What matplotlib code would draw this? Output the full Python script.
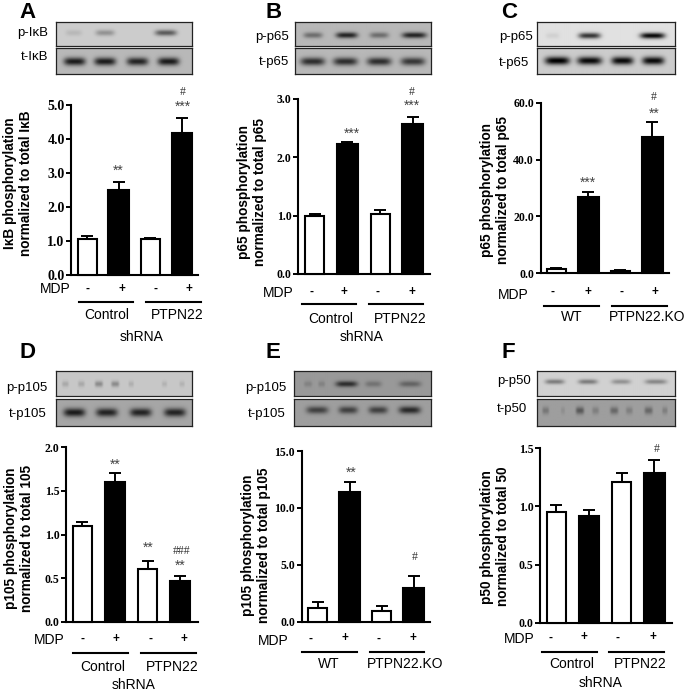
import numpy as np
import matplotlib
matplotlib.use("Agg")
import matplotlib.pyplot as plt
from matplotlib.lines import Line2D

W, H = 686, 692
SANS = "Liberation Sans"
SERIF = "Liberation Serif"

# ---- data ----
conditions = ["Control -", "Control +", "PTPN22 -", "PTPN22 +"]
mdp_signs = ["-", "+", "-", "+"]

a_mean = [1.04, 2.49, 1.04, 4.17]
a_top = [1.15, 2.74, 1.07, 4.62]
b_mean = [1.00, 2.22, 1.02, 2.57]
b_top = [1.03, 2.26, 1.10, 2.69]
c_mean = [1.4, 26.7, 0.9, 47.8]
c_top = [2.0, 28.5, 1.3, 53.3]
d_mean = [1.10, 1.60, 0.61, 0.47]
d_top = [1.14, 1.71, 0.70, 0.52]
e_mean = [1.17, 11.4, 0.90, 2.96]
e_top = [1.70, 12.25, 1.35, 4.00]
f_mean = [0.95, 0.92, 1.21, 1.29]
f_top = [1.01, 0.97, 1.29, 1.40]

a_ticks = [0, 1, 2, 3, 4, 5]
b_ticks = [0, 1, 2, 3]
c_ticks = [0, 20, 40, 60]
d_ticks = [0, 0.5, 1.0, 1.5, 2.0]
e_ticks = [0, 5, 10, 15]
f_ticks = [0, 0.5, 1.0, 1.5]

ctrl_groups = ["Control", "PTPN22"]
ko_groups = ["WT", "PTPN22.KO"]

a_ylabel = "I\u03baB phosphorylation\nnormalized to total I\u03baB"
b_ylabel = "p65 phosphorylation\nnormalized to total p65"
c_ylabel = "p65 phosphorylation\nnormalized to total p65"
d_ylabel = "p105 phosphorylation\nnormalized to total 105"
e_ylabel = "p105 phosphorylation\nnormalized to total p105"
f_ylabel = "p50 phosphorylation\nnormalized to total 50"

# blot bands: (centre along strip 0-1, half width 0-1, darkness 0-1)
a_p = [(.128, .06, .10), (.36, .07, .28), (.81, .08, .55)]
a_t = [(.135, .08, .85), (.36, .08, .85), (.60, .08, .80), (.83, .08, .85)]
b_p = [(.13, .07, .40), (.38, .08, .80), (.62, .07, .40), (.88, .09, .80)]
b_t = [(.128, .09, .75), (.37, .09, .75), (.62, .09, .75), (.87, .09, .70)]
c_p = [(.11, .05, .07), (.38, .08, .75), (.84, .09, .95)]
c_t = [(.145, .09, 1.0), (.38, .09, .95), (.62, .08, .95), (.845, .08, .95)]
d_p = [(.066, .025, .15), (.184, .025, .15), (.314, .03, .30), (.435, .03, .30),
       (.553, .02, .12), (.80, .02, .10), (.93, .02, .10)]
d_t = [(.133, .08, .85), (.373, .08, .80), (.624, .08, .80), (.877, .08, .80)]
e_p = [(.10, .03, .15), (.20, .025, .15), (.383, .08, .70), (.58, .06, .25), (.85, .08, .35)]
e_t = [(.168, .08, .60), (.395, .07, .60), (.615, .07, .60), (.847, .08, .75)]
f_p = [(.126, .07, .40), (.368, .07, .40), (.61, .07, .30), (.864, .08, .35)]
f_t = [(.06, .025, .25), (.186, .015, .10), (.31, .03, .45), (.424, .025, .20),
       (.56, .03, .35), (.67, .025, .20), (.811, .03, .35), (.93, .02, .20)]


# ---- layout in image pixels ----
def fx(x):
    return x / W


def fy(y):
    return 1 - y / H


fig = plt.figure(figsize=(W / 100, H / 100), dpi=100, facecolor="white")


def txt(x, y, s, **kw):
    kw.setdefault("ha", "center")
    kw.setdefault("va", "center")
    kw.setdefault("family", SANS)
    fig.text(fx(x), fy(y), s, **kw)


def blot(x0, x1, y0, y1, bg, bands, yc, sy=4.0):
    ax = fig.add_axes([fx(x0), fy(y1), (x1 - x0) / W, (y1 - y0) / H])
    nx, ny = int(x1 - x0), int(y1 - y0)
    xs = np.linspace(0, 1, nx)[None, :]
    ys = np.arange(ny)[:, None]
    shade = np.zeros((ny, nx))
    for c, hw, d in bands:
        shade += d * np.exp(-((xs - c) / hw) ** 4) * np.exp(-((ys - yc * ny) / sy) ** 2)
    ax.imshow(np.clip(bg * (1 - shade), 0, 1), cmap="gray", vmin=0, vmax=1,
              aspect="auto", interpolation="bilinear")
    ax.set_xticks([])
    ax.set_yticks([])
    for s in ax.spines.values():
        s.set_linewidth(0.9)
        s.set_color("#222222")


def panel(x0, x1, ytop, y0, ymax, c0, sp, mean, top, ticks, fmt, tfs):
    ax = fig.add_axes([fx(x0), fy(y0), (x1 - x0) / W, (y0 - ytop) / H])
    ax.set_xlim((x0 - c0) / sp, (x1 - c0) / sp)
    ax.set_ylim(0, ymax)
    pos = np.arange(len(mean))
    err = np.array(top) - np.array(mean)
    colors = ["white", "black", "white", "black"]
    widths = [19 / sp, 20.5 / sp, 19 / sp, 20.5 / sp]
    ax.bar(pos, mean, width=widths, color=colors, edgecolor="black", linewidth=1.5, zorder=3, clip_on=False)
    ax.errorbar(pos, mean, yerr=[np.zeros(4), err], fmt="none", ecolor="black",
                elinewidth=1.4, capsize=4, capthick=1.4, zorder=2, clip_on=False)
    ax.set_xticks([])
    ax.set_yticks(ticks)
    ax.set_yticklabels([fmt.format(t) for t in ticks], family=SERIF, fontweight="bold", fontsize=tfs)
    ax.tick_params(axis="y", length=3.8, width=1.4, pad=1)
    ax.patch.set_alpha(0)
    for s in ("top", "right"):
        ax.spines[s].set_visible(False)
    for s in ("left", "bottom"):
        ax.spines[s].set_linewidth(1.5)
    return ax


def under(mdp_xy, signs_x, sign_y, lines, line_y, groups, group_y):
    txt(mdp_xy[0], mdp_xy[1], "MDP", fontsize=10)
    for x, s in zip(signs_x, mdp_signs):
        txt(x, sign_y, s, fontsize=8.5, fontweight="bold")
    for (a, b) in lines:
        fig.add_artist(Line2D([fx(a), fx(b)], [fy(line_y), fy(line_y)], color="black", lw=1.5))
    for (x, s) in groups:
        txt(x, group_y, s, fontsize=10)


def marks(items):
    for x, y, s in items:
        if "#" in s:
            txt(x, y, s, fontsize=8.5, color="#333333", family=SERIF)
        else:
            txt(x, y + 2, s, fontsize=10, color="#444444")


BF = dict(fontweight="bold", fontsize=9.8, rotation=90, linespacing=1.15, multialignment="center")
LET = dict(fontweight="bold", fontsize=16)
BL = dict(fontsize=9.5)

# Panel A
blot(56, 192, 22, 46, .80, a_p, .43, 3)
blot(56, 192, 48, 74, .72, a_t, .50)
panel(71.3, 198, 105.3, 274.7, 5, 87, 31.6, a_mean, a_top, a_ticks, "{:.1f}", 10)
txt(18.3, 183, a_ylabel, **BF)
txt(28, 12.5, "A", **LET)
txt(33, 33, "p-I\u03baB", **BL)
txt(35, 57, "t-I\u03baB", **BL)
under((55, 289), [87, 122, 155, 189], 289, [(78.7, 132.7), (146, 200.7)], 301.7,
      [(107, ctrl_groups[0]), (177.7, ctrl_groups[1])], 315)
txt(142, 337, "shRNA", fontsize=10)
marks([(118.3, 169, "**"), (183.3, 104.3, "***"), (183, 92, "#")])

# Panel B
blot(295.3, 431, 22, 46, .72, b_p, .53, 3)
blot(295.3, 431, 48, 74, .72, b_t, .50)
panel(298.3, 430, 98.7, 274, 3, 314.8, 32.6, b_mean, b_top, b_ticks, "{:.1f}", 8.5)
txt(252.3, 191.7, b_ylabel, **BF)
txt(274, 12.5, "B", **LET)
txt(272, 37, "p-p65", **BL)
txt(274, 62, "t-p65", **BL)
under((278, 292.7), [311, 344.3, 377.7, 412], 291.7, [(302, 356), (368.7, 423.3)], 304.3,
      [(331, ctrl_groups[0]), (400, ctrl_groups[1])], 318.7)
txt(362, 337, "shRNA", fontsize=10)
marks([(351.7, 131.7, "***"), (412, 104, "***"), (412, 92, "#")])

# Panel C
blot(537, 674.7, 22, 46, .88, c_p, .55, 3)
blot(537, 674.7, 48, 74, .80, c_t, .47)
panel(540.7, 668.7, 102.7, 273.3, 60, 556.3, 32, c_mean, c_top, c_ticks, "{:.1f}", 8.5)
txt(494.7, 190, c_ylabel, **BF)
txt(509, 12.5, "C", **LET)
txt(516, 37, "p-p65", **BL)
txt(514, 63, "t-p65", **BL)
under((513, 294.7), [552.3, 587.7, 621, 655], 291.7, [(544, 598.7), (612, 666.7)], 305.7,
      [(571.3, ko_groups[0]), (646.7, ko_groups[1])], 317.3)
marks([(588, 180.7, "***"), (654, 111.7, "**"), (653.3, 97, "#")])

# Panel D
blot(56, 192, 370.7, 395.7, .78, d_p, .50, 3)
blot(56, 192, 399, 425.7, .65, d_t, .48)
panel(66, 197.7, 447.3, 621.7, 2, 82.3, 32.6, d_mean, d_top, d_ticks, "{:.1f}", 8.5)
txt(18.7, 538.3, d_ylabel, **BF)
txt(28, 353, "D", **LET)
txt(27, 388, "p-p105", **BL)
txt(28, 414, "t-p105", **BL)
under((49.3, 640), [82.7, 116.3, 150.3, 183.7], 639, [(73.3, 127.7), (141.3, 195.7)], 652.7,
      [(102.3, ctrl_groups[0]), (172.7, ctrl_groups[1])], 666.7)
txt(133.3, 685, "shRNA", fontsize=10)
marks([(115.7, 462.7, "**"), (148.7, 546, "**"), (182, 550.7, "###"), (180.7, 563.7, "**")])

# Panel E
blot(294.3, 431, 370.7, 395.7, .60, e_p, .50, 3)
blot(294.3, 431, 399, 425.7, .62, e_t, .39, 3.5)
panel(301.7, 430, 451, 621.7, 15, 317.7, 32, e_mean, e_top, e_ticks, "{:.1f}", 8.5)
txt(255.7, 545.7, e_ylabel, **BF)
txt(273, 353, "E", **LET)
txt(266, 388, "p-p105", **BL)
txt(267, 414, "t-p105", **BL)
under((273.3, 641), [310.3, 344.7, 378.7, 412.7], 638.3, [(302.3, 357), (369.7, 424.3)], 651.7,
      [(328.7, ko_groups[0]), (405.3, ko_groups[1])], 664)
marks([(351.7, 470.7, "**"), (415, 557.3, "#")])

# Panel F
blot(537, 674.7, 370.7, 395.7, .82, f_p, .41, 2.5)
blot(537, 674.7, 399, 425.7, .62, f_t, .41, 3.5)
panel(540, 671.7, 448.3, 622.7, 1.5, 556.2, 32.7, f_mean, f_top, f_ticks, "{:.1f}", 8.5)
txt(494.7, 536.7, f_ylabel, **BF)
txt(508, 353, "F", **LET)
txt(514, 381, "p-p50", **BL)
txt(512, 409, "t-p50", **BL)
under((519, 639), [550.3, 584, 618, 652.7], 637.3, [(542, 596.7), (609.3, 664)], 651.7,
      [(571.3, ctrl_groups[0]), (640.3, ctrl_groups[1])], 664.3)
txt(601, 683.3, "shRNA", fontsize=10)
marks([(656.7, 448.7, "#")])

fig.savefig("out.png", dpi=100, facecolor="white")
